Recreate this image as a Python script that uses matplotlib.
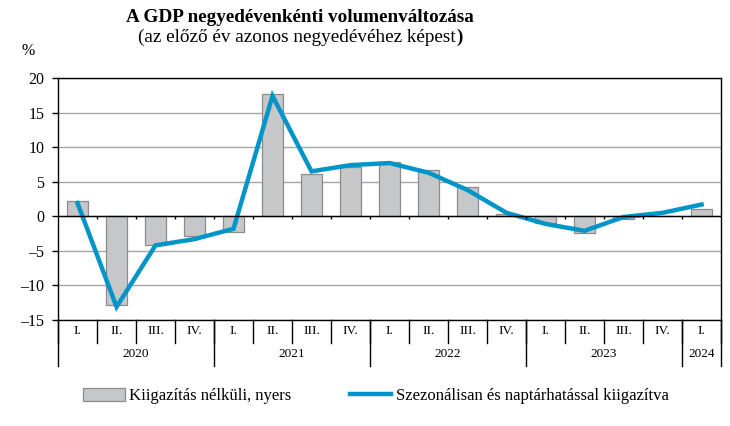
import matplotlib
matplotlib.use("Agg")
import matplotlib.pyplot as plt
import matplotlib.transforms as mtransforms
from matplotlib.patches import Patch
from matplotlib.lines import Line2D

plt.rcParams['font.family'] = ['Liberation Serif', 'DejaVu Serif']

quarters = ["I.", "II.", "III.", "IV.", "I.", "II.", "III.", "IV.", "I.", "II.", "III.", "IV.",
            "I.", "II.", "III.", "IV.", "I."]
years = ["2020", "2021", "2022", "2023", "2024"]
year_counts = [4, 4, 4, 4, 1]
raw = [2.2, -12.8, -4.1, -2.8, -2.2, 17.7, 6.1, 7.2, 7.9, 6.7, 4.2, 0.3,
       -0.9, -2.4, -0.4, 0.0, 1.1]
adjusted = [1.9, -13.1, -4.2, -3.3, -1.8, 17.4, 6.5, 7.4, 7.7, 6.3, 3.8, 0.5,
            -1.1, -2.1, -0.1, 0.5, 1.7]
yticks = [-15, -10, -5, 0, 5, 10, 15, 20]

fig = plt.figure(figsize=(7.30, 4.26), dpi=100)
ax = fig.add_axes([0.0795, 0.2488, 0.9082, 0.5681])

x = list(range(len(raw)))
ax.bar(x, raw, width=0.56, color="#C6C7C9", edgecolor="#8C8C8C", linewidth=0.9, zorder=2,
       label="Kiigazítás nélküli, nyers")
ax.plot(x, adjusted, color="#0095C9", linewidth=3.2, zorder=3, solid_joinstyle="miter",
        label="Szezonálisan és naptárhatással kiigazítva")

ax.set_xlim(-0.5, len(raw) - 0.5)
ax.set_ylim(-15, 20)
ax.set_yticks(yticks)
ax.set_yticklabels([("–" + str(-v)) if v < 0 else str(v) for v in yticks], fontsize=11.5)
ax.yaxis.grid(True, color="#A6A6A6", linewidth=1.0, zorder=0)
ax.set_axisbelow(True)
ax.axhline(0, color="black", linewidth=1.0, zorder=4)
ax.tick_params(axis="y", direction="out", length=4, width=1, pad=6)
ax.set_xticks([])
for s in ax.spines.values():
    s.set_linewidth(1.0)
    s.set_color("black")

# small ticks on zero line at category boundaries
bounds = [i - 0.5 for i in range(1, len(raw))]
ax.vlines(bounds, -0.45, 0, color="black", linewidth=1.0, zorder=4)

# table-like category axis
trans = mtransforms.blended_transform_factory(ax.transData, ax.transAxes)
q_bottom = -0.095
y_bottom = -0.19
for i in range(len(raw) + 1):
    xb = i - 0.5
    ax.plot([xb, xb], [0, q_bottom], transform=trans, color="black", linewidth=1.0, clip_on=False)
for i, q in enumerate(quarters):
    ax.text(i, -0.045, q, transform=trans, ha="center", va="center", fontsize=9.5)
start = 0
for yr, n in zip(years, year_counts):
    ax.plot([start - 0.5, start - 0.5], [0, y_bottom], transform=trans, color="black",
            linewidth=1.0, clip_on=False)
    ax.text(start + n / 2 - 0.5, -0.14, yr, transform=trans, ha="center", va="center", fontsize=9.5)
    start += n
ax.plot([start - 0.5, start - 0.5], [0, y_bottom], transform=trans, color="black",
        linewidth=1.0, clip_on=False)

fig.text(0.411, 0.960, "A GDP negyedévenkénti volumenváltozása", ha="center", va="center",
         fontsize=13.8, fontweight="bold")
fig.text(0.6247, 0.913, "(az előző év azonos negyedévéhez képest", ha="right", va="center",
         fontsize=13.8)
fig.text(0.6247, 0.913, ")", ha="left", va="center", fontsize=13.8, fontweight="bold")
fig.text(0.038, 0.88, "%", ha="center", va="center", fontsize=11.5)

handles = [Patch(facecolor="#C6C7C9", edgecolor="#8C8C8C", linewidth=0.9),
           Line2D([0], [0], color="#0095C9", linewidth=3.2)]
labels = ["Kiigazítás nélküli, nyers", "Szezonálisan és naptárhatással kiigazítva"]
fig.legend(handles, labels, loc="center", bbox_to_anchor=(0.515, 0.07), ncol=2, frameon=False,
           fontsize=12, handlelength=2.5, handleheight=0.8, handletextpad=0.25, columnspacing=3.5)

fig.savefig("out.png", dpi=100)
